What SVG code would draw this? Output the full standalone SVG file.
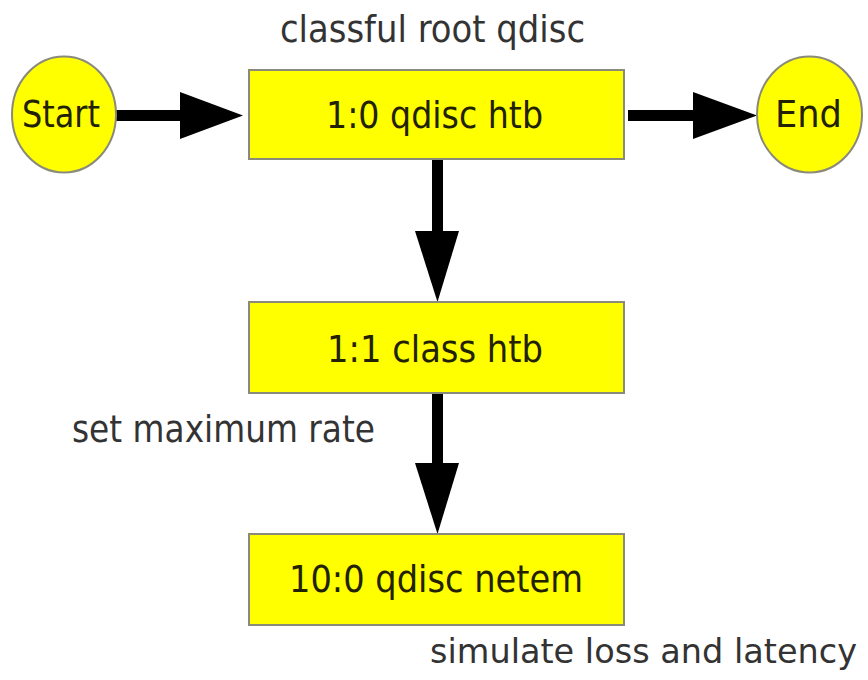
<svg xmlns="http://www.w3.org/2000/svg" width="868" height="680" viewBox="0 0 868 680">
<style>
.node{fill:#ffff00;stroke:#8a8a7a;stroke-width:2}
.nt{font-family:"DejaVu Sans","Liberation Sans",sans-serif;font-size:38px;fill:#222200;text-anchor:middle}
.lbl{font-family:"DejaVu Sans","Liberation Sans",sans-serif;font-size:38px;fill:#333333}
.ln{stroke:#000;stroke-width:11;fill:none}
.hd{fill:#000}
</style>
<rect width="868" height="680" fill="#ffffff"/>
<g id="connectors">
<line class="ln" x1="116" y1="115.5" x2="185" y2="115.5"/>
<polygon class="hd" points="180,92 243,115.5 180,139"/>
<line class="ln" x1="628" y1="115.5" x2="697" y2="115.5"/>
<polygon class="hd" points="693,92 757,115.5 693,139"/>
<line class="ln" x1="437.5" y1="159" x2="437.5" y2="236"/>
<polygon class="hd" points="415,231 459,231 437.5,302"/>
<line class="ln" x1="437.5" y1="393" x2="437.5" y2="468"/>
<polygon class="hd" points="415,463 459,463 437.5,534"/>
</g>
<g id="start">
<ellipse class="node" cx="64" cy="114.5" rx="52" ry="58"/>
<text class="nt" x="61" y="127" textLength="78" lengthAdjust="spacingAndGlyphs">Start</text>
</g>
<g id="end">
<ellipse class="node" cx="809.5" cy="114.5" rx="52.5" ry="58"/>
<text class="nt" x="808.5" y="127" textLength="67" lengthAdjust="spacingAndGlyphs">End</text>
</g>
<g id="qdisc_root">
<rect class="node" x="249" y="70" width="375" height="89"/>
<text class="nt" x="434.5" y="128" textLength="217" lengthAdjust="spacingAndGlyphs">1:0 qdisc htb</text>
<text class="lbl" x="280" y="42" textLength="305" lengthAdjust="spacingAndGlyphs">classful root qdisc</text>
</g>
<g id="class_htb">
<rect class="node" x="249" y="302" width="375" height="91"/>
<text class="nt" x="435" y="362" textLength="216" lengthAdjust="spacingAndGlyphs">1:1 class htb</text>
<text class="lbl" x="72" y="442" textLength="303" lengthAdjust="spacingAndGlyphs">set maximum rate</text>
</g>
<g id="netem">
<rect class="node" x="249" y="534" width="375" height="91"/>
<text class="nt" x="436" y="592" textLength="294" lengthAdjust="spacingAndGlyphs">10:0 qdisc netem</text>
<text class="lbl" x="430" y="663" textLength="427" lengthAdjust="spacingAndGlyphs" style="font-size:34px">simulate loss and latency</text>
</g>
</svg>
